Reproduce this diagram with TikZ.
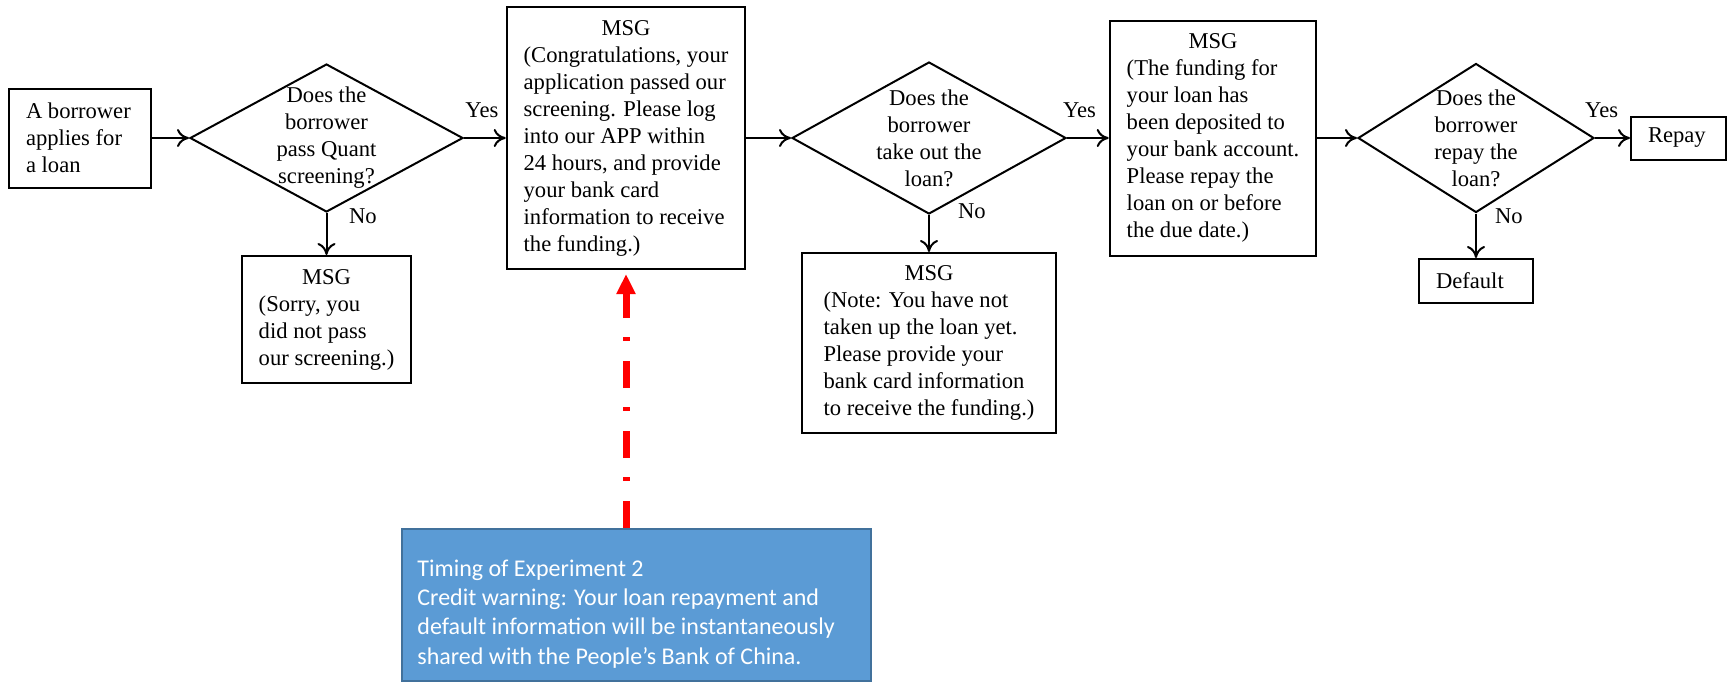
\documentclass[tikz,border=0pt]{standalone}
\usepackage{fontspec}
\setmainfont{Liberation Serif}
\newfontfamily\warnfont{Carlito}
\usepackage{tikz}
\usepackage{xcolor}
\usetikzlibrary{shapes.geometric,arrows.meta}
\definecolor{WarnBlue}{HTML}{5B9BD5}
\definecolor{WarnEdge}{HTML}{41719C}
\tikzstyle{flowBlock}=[draw, line width=1pt, align=flush left, inner xsep=8.5pt, inner ysep=0pt, font=\fontsize{11.3}{13.5}\selectfont]
\tikzstyle{decisionBlock}=[draw, diamond, line width=1pt, inner sep=0pt]
\tikzstyle{invisNode}=[inner sep=0pt, align=center, font=\fontsize{11.3}{13.5}\selectfont]
\tikzstyle{warnBlock}=[draw=WarnEdge, fill=WarnBlue, line width=1pt]
\tikzstyle{warnText}=[inner sep=0pt, text=white, align=flush left, font=\warnfont\fontsize{12}{14.6}\selectfont]
\tikzstyle{flowTransition}=[-{To[length=6pt,width=9pt]}, line width=1pt]
\tikzstyle{warnTransition}=[-{Triangle[length=10pt,width=9pt]}, red, line width=3.5pt, dash pattern=on 13.5pt off 10pt on 2pt off 9.5pt]
\newcommand{\msgLines}[1]{\begin{tabular}{@{}l@{}}\multicolumn{1}{@{}c@{}}{MSG}\\#1\end{tabular}}

\begin{document}
\begin{tikzpicture}[x=0.5pt,y=-0.5pt]
        \useasboundingbox (0,0) rectangle (1728,681);

        % Main line
        \node[flowBlock, text width=54pt, minimum height=49.5pt] (start) at (80,138) {A borrower\\applies for\\a loan};
        \node[decisionBlock, minimum width=136.5pt, minimum height=74pt] (d1) at (326.5,138) {};
        \node[invisNode] (q1) at (d1) {Does the\\borrower\\pass Quant\\screening?};
        \node[flowBlock, minimum width=119pt, minimum height=131pt] (msg1) at (626,138) {\msgLines{(Congratulations, your\\application passed our\\screening. Please log\\into our APP within\\24 hours, and provide\\your bank card\\information to receive\\the funding.)}};
        \node[decisionBlock, minimum width=137pt, minimum height=76pt] (d2) at (929,138) {};
        \node[invisNode] (q2) at (d2) {Does the\\borrower\\take out the\\loan?};
        \node[flowBlock, minimum width=100pt, minimum height=117.5pt] (msg3) at (1213,138) {\msgLines{(The funding for\\your loan has\\been deposited to\\your bank account.\\Please repay the\\loan on or before\\the due date.)}};
        \node[decisionBlock, minimum width=118pt, minimum height=74.5pt] (d3) at (1476,138) {};
        \node[invisNode] (q3) at (d3) {Does the\\borrower\\repay the\\loan?};
        \node[flowBlock, text width=30.5pt, minimum height=21.5pt] (repay) at (1678.5,138) {Repay};

        % Side branches
        \node[flowBlock, minimum width=82pt, minimum height=63.5pt] (msg0) at (326.5,319.5) {\msgLines{(Sorry, you\\did not pass\\our screening.)}};
        \node[flowBlock, minimum width=127pt, minimum height=90pt] (msg2) at (929,343) {\msgLines{(Note: You have not\\taken up the loan yet.\\Please provide your\\bank card information\\to receive the funding.)}};
        \node[flowBlock, text width=40pt, minimum height=22pt] (default) at (1476,281) {Default};

        \draw[flowTransition] (start) -- (d1);
        \draw[flowTransition] (d1) -- node[invisNode, pos=0.43, above=9.5pt] {Yes} (msg1);
        \draw[flowTransition] (msg1) -- (d2);
        \draw[flowTransition] (d2) -- node[invisNode, pos=0.3, above=9.5pt] {Yes} (msg3);
        \draw[flowTransition] (msg3) -- (d3);
        \draw[flowTransition] (d3) -- node[invisNode, pos=0.19, above=9.5pt] {Yes} (repay);

        \draw[flowTransition] (d1.south) -- node[invisNode, pos=0.25, anchor=base west, xshift=10.75pt] {No} (msg0.north);
        \draw[flowTransition] (d2.south) -- node[invisNode, pos=0.1, anchor=base west, xshift=14pt] {No} (msg2.north);
        \draw[flowTransition] (d3.south) -- node[invisNode, pos=0.22, anchor=base west, xshift=9pt] {No} (default.north);

        % Experiment timing
        \node[warnBlock, minimum width=234.5pt, minimum height=76pt] (warn) at (636.5,605) {};
        \node[warnText, anchor=west] (warnMsg) at ([xshift=8pt,yshift=-4.5pt]warn.west) {Timing of Experiment 2\\Credit warning: Your loan repayment and\\default information will be instantaneously\\shared with the People’s Bank of China.};
        \draw[warnTransition] (warn.north -| msg1.south) -- ([yshift=-2pt]msg1.south);

\end{tikzpicture}
\end{document}
